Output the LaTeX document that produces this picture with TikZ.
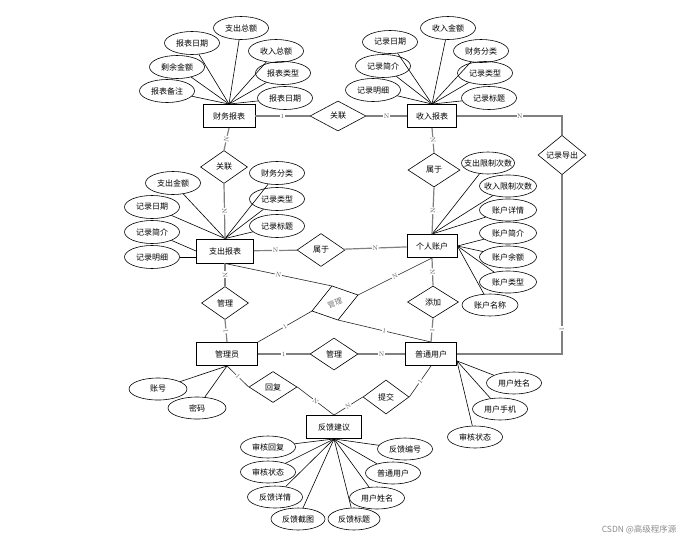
\documentclass[tikz,border=0pt]{standalone}
\usepackage{fontspec}
\newfontfamily\cjk{Noto Sans CJK SC}
\usetikzlibrary{shapes.geometric}

\begin{document}
\begin{tikzpicture}[x=1pt,y=-1pt,
  every node/.style={font=\cjk\fontsize{8}{9}\selectfont},
  entity/.style={draw,line width=0.9pt,minimum width=52pt,minimum height=23pt,inner sep=1pt},
  attr/.style={ellipse,draw,line width=0.6pt,minimum width=55pt,minimum height=23pt,inner sep=0pt},
  wattr/.style={attr,inner xsep=-7pt},
  rel/.style={diamond,draw,line width=0.6pt,minimum width=48pt,minimum height=33pt,inner sep=0pt},
  link/.style={draw=black!50,line width=1.2pt},
  slant/.style={draw=black!85,line width=0.6pt},
  card/.style={fill=white,text=black!65,inner sep=0.6pt,font=\fontsize{6.5}{6.5}\selectfont,sloped},
  aline/.style={line width=0.6pt}]
  \useasboundingbox (0,0) rectangle (687,544);
  % entidades
  \node[entity] (cw) at (229,116) {财务报表};
  \node[entity,minimum width=49pt] (sr) at (432,116) {收入报表};
  \node[entity,minimum width=57pt,minimum height=24pt] (zc) at (225,251) {支出报表};
  \node[entity,minimum width=50pt] (gr) at (432,246) {个人账户};
  \node[entity,minimum width=61pt] (gly) at (227,354) {管理员};
  \node[entity,minimum width=51pt] (pt) at (431,354) {普通用户};
  \node[entity,minimum width=55pt] (fk) at (334,427) {反馈建议};
  % relaciones
  \node[rel,minimum width=56pt,minimum height=30pt] (gl1) at (338,116) {关联};
  \node[rel,minimum width=47pt] (gl2) at (224,167) {关联};
  \node[rel,minimum width=52pt,minimum height=34pt] (sy1) at (434,170) {属于};
  \node[rel,minimum height=35pt] (dc) at (562,155) {记录导出};
  \node[rel] (sy2) at (321,250) {属于};
  \node[rel,minimum width=47pt] (gl3) at (225,303) {管理};
  \node[rel,minimum width=51pt,minimum height=32pt] (tj) at (433,302) {添加};
  \node[rel,minimum height=32pt] (gl4) at (334,354) {管理};
  \node[rel,minimum height=31pt] (hf) at (273,387) {回复};
  \node[rel,minimum width=46pt,minimum height=34pt] (ti) at (386,397) {提交};
  % rombo inclinado
  \coordinate (ma) at (332,286);
  \coordinate (mb) at (358,295);
  \coordinate (mc) at (338,320);
  \coordinate (md) at (312,311);
  \draw[line width=0.6pt] (ma)--(mb)--(mc)--(md)--cycle;
  \node[text=black!55,rotate=20,inner sep=0pt,font=\cjk\fontsize{7.5}{8}\selectfont] (gl5) at (335,303) {管理};
  % atributos
  \node[attr] (cw1) at (241,28) {支出总额};
  \node[attr] (cw2) at (192,43) {报表日期};
  \node[attr] (cw3) at (276,51) {收入总额};
  \node[attr] (cw4) at (177,67) {剩余金额};
  \node[attr] (cw5) at (283,73) {报表类型};
  \node[attr] (cw6) at (167,91) {报表备注};
  \node[attr] (cw7) at (285,98) {报表日期};
  \node[attr] (sr1) at (448,28) {收入金额};
  \node[attr] (sr2) at (390,42) {记录日期};
  \node[attr] (sr3) at (481,51) {财务分类};
  \node[attr] (sr4) at (383,66) {记录简介};
  \node[attr] (sr5) at (485,73) {记录类型};
  \node[attr] (sr6) at (373,90) {记录明细};
  \node[attr] (sr7) at (489,98) {记录标题};
  \node[attr] (zc1) at (173,183) {支出金额};
  \node[attr] (zc2) at (277,173) {财务分类};
  \node[attr] (zc3) at (152,207) {记录日期};
  \node[attr] (zc4) at (277,199) {记录类型};
  \node[attr] (zc5) at (277,226) {记录标题};
  \node[attr] (zc6) at (152,232) {记录简介};
  \node[attr] (zc7) at (152,257) {记录明细};
  \node[wattr,minimum width=53pt,minimum height=22pt] (gr1) at (488,163) {支出限制次数};
  \node[wattr,minimum width=57pt,minimum height=22pt] (gr2) at (508,186) {收入限制次数};
  \node[attr,minimum width=57pt,minimum height=22pt] (gr3) at (508,210) {账户详情};
  \node[attr,minimum width=57pt,minimum height=22pt] (gr4) at (508,233) {账户简介};
  \node[attr,minimum width=57pt,minimum height=22pt] (gr5) at (508,257) {账户余额};
  \node[attr,minimum width=57pt,minimum height=22pt] (gr6) at (508,282) {账户类型};
  \node[attr,minimum width=56pt,minimum height=22pt] (gr7) at (490,305) {账户名称};
  \node[attr,minimum width=58pt,minimum height=22pt] (gly1) at (158,389) {账号};
  \node[attr,minimum width=58pt,minimum height=22pt] (gly2) at (197,408) {密码};
  \node[attr,minimum height=22pt] (pt1) at (514,383) {用户姓名};
  \node[attr,minimum height=22pt] (pt2) at (500,409) {用户手机};
  \node[attr,minimum height=22pt] (pt3) at (475,437) {审核状态};
  \node[attr,minimum height=22pt] (fk1) at (268,447) {审核回复};
  \node[attr,minimum height=22pt] (fk2) at (405,449) {反馈编号};
  \node[attr,minimum height=22pt] (fk3) at (268,472) {审核状态};
  \node[attr,minimum height=22pt] (fk4) at (393,473) {普通用户};
  \node[attr,minimum height=22pt] (fk5) at (275,497) {反馈详情};
  \node[attr,minimum height=22pt] (fk6) at (377,498) {用户姓名};
  \node[attr,minimum width=54pt,minimum height=22pt] (fk7) at (298,519) {反馈截图};
  \node[attr,minimum width=52pt,minimum height=22pt] (fk8) at (354,519) {反馈标题};
  % lineas de atributos
  \foreach \a in {cw1,cw2,cw3,cw4,cw5,cw6,cw7} \draw[aline] (\a) -- (cw.north);
  \foreach \a in {sr1,sr2,sr3,sr4,sr5,sr6,sr7} \draw[aline] (\a) -- (sr.north);
  \foreach \a in {zc1,zc2,zc3,zc4,zc5} \draw[aline] (\a) -- (zc.north);
  \draw[aline] (zc6) -- (zc.west);
  \draw[aline] (zc7) -- (zc7 -| zc.west);
  \foreach \a in {gr1,gr2,gr3} \draw[aline] (\a) -- (gr.north);
  \foreach \a in {gr4,gr5,gr6,gr7} \draw[aline] (\a) -- (gr.east);
  \foreach \a in {gly1,gly2} \draw[aline] (\a) -- (gly.south);
  \foreach \a in {pt1,pt2,pt3} \draw[aline] (\a) -- (pt.-15);
  \foreach \a in {fk1,fk2,fk3,fk4,fk5,fk6,fk7,fk8} \draw[aline] (\a) -- (fk.south);
  % conexiones
  \draw[link] (cw) -- node[card]{1} (gl1);
  \draw[link] (gl1) -- node[card]{N} (sr);
  \draw[link] (sr) -| node[card,pos=0.3]{N} (dc);
  \draw[link] (dc) |- node[card,pos=0.43]{1} (pt);
  \draw[link] (cw.south) -- node[card]{N} (gl2.north);
  \draw[link] (gl2.south) -- node[card]{N} (zc.north);
  \draw[link] (zc) -- node[card]{N} (sy2);
  \draw[link] (sy2) -- node[card]{N} (gr);
  \draw[link] (sr.south) -- node[card]{N} (sy1.north);
  \draw[link] (sy1.south) -- node[card]{N} (gr.north);
  \draw[link] (gr.south) -- node[card]{N} (tj.north);
  \draw[link] (tj.south) -- node[card]{1} (pt.north);
  \draw[link] (zc.south) -- node[card]{N} (gl3.north);
  \draw[link] (gl3.south) -- node[card]{1} (gly.north);
  \draw[link] (gly) -- node[card]{1} (gl4);
  \draw[link] (gl4) -- node[card]{N} (pt);
  \draw[slant] (zc.south) -- node[card]{N} (ma);
  \draw[slant] (gr.south) -- node[card]{N} (mb);
  \draw[slant] (md) -- node[card]{1} (gly.north east);
  \draw[slant] (mc) -- node[card]{1} (pt.north);
  \draw[slant] (gly.south) -- node[card]{1} (hf.west);
  \draw[slant] (hf.east) -- node[card]{N} (fk.north);
  \draw[slant] (pt.south) -- node[card]{1} (ti.east);
  \draw[slant] (ti.west) -- node[card]{N} (fk.north);
  % marca
  \node[text=black!45,font=\cjk\fontsize{8.5}{9}\selectfont,anchor=east] (wm) at (680,530) {CSDN @高级程序源};
\end{tikzpicture}
\end{document}
